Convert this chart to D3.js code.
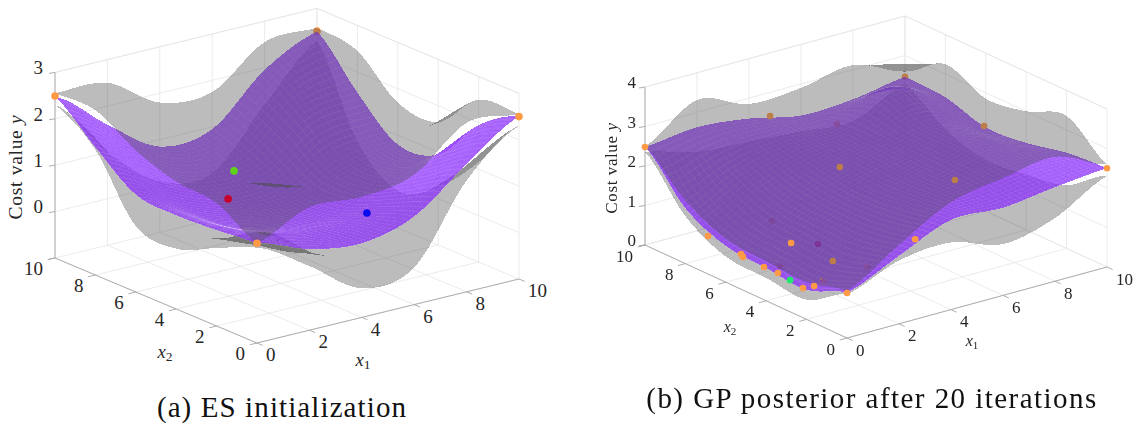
<!DOCTYPE html>
<html>
<head>
<meta charset="utf-8">
<script src="https://cdn.jsdelivr.net/npm/d3@7"></script>
<style>
  html, body { margin: 0; padding: 0; background: #fff; }
  svg { display: block; font-family: "Liberation Serif", serif; }
</style>
</head>
<body>
<div id="chart"></div>
<script>
// surface heights at x = 0, 2, 4, 6, 8, 10; rows are x2, columns are x1
const axisTicks = [0, 2, 4, 6, 8, 10];

const meanA = [
  [1.15, .75, .6, .9, 1.75, 2.5],
  [1.07, .7, .5, .6, 1.2, 1.95],
  [1.02, .5, .25, .25, .7, .95],
  [1.1, .55, .2, .2, .7, .8],
  [1.75, 1.0, .5, .6, 1.4, 1.55],
  [2.47, 1.6, .85, .95, 1.95, 2.5]
];
const upperA = [
  [1.15, 1.65, 1.6, 1.8, 2.64, 2.55],
  [1.65, 1.75, 1.45, 1.5, 2.0, 2.5],
  [1.75, 1.5, 1.1, 1.15, 1.5, 1.65],
  [2.05, 1.6, 1.15, 1.1, 1.55, 1.7],
  [2.55, 2.2, 1.55, 1.6, 2.3, 2.45],
  [2.55, 2.5, 1.8, 1.75, 2.55, 2.58]
];
const lowerA = [
  [1.05, .38, -.37, -.2, 1.4, 2.3],
  [.68, .72, -.05, -.3, .7, 1.15],
  [.3, .25, -.25, -.6, 0, .25],
  [.42, 0, -.45, -.85, -.3, -.2],
  [1.7, .5, -.3, -.5, 0, .5],
  [2.3, 1.0, .1, 0, 1.2, 2.3]
];

const meanB = [
  [1.15, 1.72, 2.27, 2.22, 2.38, 2.5],
  [.75, 1.5, 2.1, 2.3, 2.5, 2.42],
  [.83, 1.5, 2.0, 2.3, 2.6, 2.2],
  [.92, 1.6, 2.1, 2.35, 2.6, 2.12],
  [1.4, 2.0, 2.3, 2.35, 3.0, 2.41],
  [2.48, 2.62, 2.48, 2.2, 2.25, 2.46]
];
const upperB = [
  [1.2, 2.0, 2.72, 2.97, 3.15, 2.6],
  [.95, 1.9, 2.6, 3.1, 3.3, 3.35],
  [1.0, 2.0, 2.6, 3.0, 3.2, 3.0],
  [1.1, 2.1, 2.7, 3.0, 3.2, 2.85],
  [1.6, 2.6, 3.0, 3.0, 3.5, 3.25],
  [2.5, 3.31, 2.85, 2.9, 3.12, 2.6]
];
const lowerB = [
  [1.1, 1.6, 1.7, 1.3, 1.6, 2.3],
  [.5, 1.1, 1.4, 1.3, 1.6, 1.6],
  [.58, 1.1, 1.3, 1.4, 1.7, 1.4],
  [.65, 1.2, 1.4, 1.5, 1.8, 1.3],
  [1.2, 1.5, 1.6, 1.6, 2.2, 1.6],
  [2.35, 2.0, 1.9, 1.8, 1.7, 2.3]
];

// samples as [x1, x2, y]
const orangeFrontA = [[0, 10, 2.49], [10, 0, 2.5], [0, 0, 1.15]];
const orangeInsideA = [[10, 10, 2.51]];
const redA = [[4.11, 6.76, .3]];
const greenA = [[2.4, 4.25, 1.6]];
const blueA = [[4.92, .94, .95]];

const orangeFrontB = [[0, 10, 2.48], [10, 0, 2.5], [0, 0, 1.14], [0, 6.88, .96], [0, 5.25, .89],
  [0, 5.15, .84], [0, 4.11, .83], [0, 3.42, .84], [0, 2.18, .75], [0, 1.63, .93],
  [.11, 2.91, 1.7], [2.62, 0, 2.03]];
const orangeInsideB = [[10, 10, 2.46], [4.4, 9.47, 2.6], [6.84, 9.3, 2.0], [4.03, 5.54, 2.3],
  [9.04, 4.85, 2.6], [5.5, 1.74, 2.6], [1.0, 1.99, 1.3], [2.25, 6.61, 1.0], [.71, 4.23, .7],
  [1.72, 1.22, 1.2], [.55, 1.89, .9]];
const redB = [[1.74, 3.68, 1.2]];
const greenB = [[0, 2.82, .8]];

const zTicksA = [0, 1, 2, 3];
const zTicksB = [0, 1, 2, 3, 4];

const grayFill = "#505050", grayAlpha = .38;
const purpleFill = "#892cfa", purpleAlpha = .75;
const meshSteps = 50;

const svg = d3.select("#chart").append("svg")
  .attr("width", 1135)
  .attr("height", 423);

// catmull-rom through the nodes, only to smooth the drawn surface
function spline(vals, t) {
  const n = vals.length - 1;
  const u = Math.min(t * n, n - 1e-9), i = Math.floor(u), f = u - i;
  const p0 = vals[Math.max(i - 1, 0)], p1 = vals[i], p2 = vals[i + 1], p3 = vals[Math.min(i + 2, n)];
  return .5 * (2 * p1 + (p2 - p0) * f + (2 * p0 - 5 * p1 + 4 * p2 - p3) * f * f + (3 * p1 - p0 - 3 * p2 + p3) * f * f * f);
}

function surfaceAt(rows, x1, x2) {
  const col = rows.map(r => spline(r, x1 / 10));
  return spline(col, x2 / 10);
}

function drawPanel(p) {
  const g = svg.append("g");

  const x1X = d3.scaleLinear().domain([0, 10]).range([0, p.x1Run[0]]);
  const x1Y = d3.scaleLinear().domain([0, 10]).range([0, p.x1Run[1]]);
  const x2X = d3.scaleLinear().domain([0, 10]).range([0, p.x2Run[0]]);
  const x2Y = d3.scaleLinear().domain([0, 10]).range([0, p.x2Run[1]]);
  const yH = d3.scaleLinear().domain(p.yDomain).range([0, p.height]);

  const project = (x1, x2, y) => [
    p.origin[0] + x1X(x1) - x2X(x2),
    p.origin[1] - x1Y(x1) - x2Y(x2) - yH(y)
  ];

  // direction the camera looks along, bigger = further away
  const b = p.x1Run[0] / p.x2Run[0];
  const c = -(p.x1Run[1] + b * p.x2Run[1]) / (p.height / (p.yDomain[1] - p.yDomain[0]));
  const depth = (x1, x2, y) => x1 + b * x2 + c * y;

  const line = d3.line();
  const yMin = p.yDomain[0], yMax = p.yDomain[1];

  // walls and floor
  const gridLines = [];
  axisTicks.forEach(t => {
    gridLines.push([[t, 0, yMin], [t, 10, yMin]]);
    gridLines.push([[0, t, yMin], [10, t, yMin]]);
    gridLines.push([[t, 10, yMin], [t, 10, yMax]]);
    gridLines.push([[10, t, yMin], [10, t, yMax]]);
  });
  p.zTicks.forEach(t => {
    gridLines.push([[0, 10, t], [10, 10, t]]);
    gridLines.push([[10, 10, t], [10, 0, t]]);
  });
  gridLines.push([[0, 10, yMax], [10, 10, yMax]], [[10, 10, yMax], [10, 0, yMax]]);

  g.append("g").selectAll("path").data(gridLines).join("path")
    .attr("d", d => line(d.map(q => project(...q))))
    .attr("fill", "none")
    .attr("stroke", "#e6e6e6")
    .attr("stroke-width", .8);

  // axis lines and tick marks
  const axisLines = [
    [[0, 0, yMin], [10, 0, yMin]],
    [[0, 0, yMin], [0, 10, yMin]],
    [[0, 10, yMin], [0, 10, yMax]]
  ];
  axisTicks.forEach(t => {
    axisLines.push([[t, 0, yMin], [t, -.28, yMin]]);
    axisLines.push([[0, t, yMin], [-.28, t, yMin]]);
  });
  g.append("g").selectAll("path").data(axisLines).join("path")
    .attr("d", d => line(d.map(q => project(...q))))
    .attr("fill", "none")
    .attr("stroke", "#a6a6a6")
    .attr("stroke-width", .9);
  g.append("g").selectAll("line").data(p.zTicks.concat(yMin)).join("line")
    .attr("x1", d => project(0, 10, d)[0] - 6)
    .attr("x2", d => project(0, 10, d)[0])
    .attr("y1", d => project(0, 10, d)[1] + 1)
    .attr("y2", d => project(0, 10, d)[1])
    .attr("stroke", "#a6a6a6")
    .attr("stroke-width", .9);

  // quads of the three surfaces plus the samples, painted back to front
  const items = [];
  const stepSize = 10 / meshSteps;
  [[p.lower, "gray"], [p.mean, "purple"], [p.upper, "gray"]].forEach(([rows, kind]) => {
    for (let i = 0; i < meshSteps; i++) {
      for (let j = 0; j < meshSteps; j++) {
        const a1 = i * stepSize, a2 = j * stepSize, e1 = a1 + stepSize, e2 = a2 + stepSize;
        const pts = [[a1, a2], [e1, a2], [e1, e2], [a1, e2]]
          .map(q => [q[0], q[1], surfaceAt(rows, q[0], q[1])]);
        const xy = pts.map(q => project(...q));
        const dep = d3.mean(pts, q => depth(...q));
        items.push({ kind: kind, depth: dep, d: line(xy) + "Z" });
        if (kind === "purple") {
          items.push({ kind: "mesh", depth: dep, d: line([xy[3], xy[0], xy[1]]) });
        }
      }
    }
  });
  p.insideDots.forEach(s => {
    s.pts.forEach(q => {
      const at = project(...q);
      items.push({ kind: "dot", depth: depth(...q), color: s.color, at: at });
    });
  });
  items.sort((m, n) => d3.descending(m.depth, n.depth));

  const circle = d3.symbol(d3.symbolCircle, Math.PI * p.dotR * p.dotR)();
  const scene = g.append("g").style("filter", "blur(.45px)");
  scene.selectAll("path").data(items).join("path")
    .attr("d", d => d.kind === "dot" ? circle : d.d)
    .attr("transform", d => d.kind === "dot" ? `translate(${d.at})` : null)
    .attr("shape-rendering", d => (d.kind === "gray" || d.kind === "purple") ? "crispEdges" : null)
    .attr("fill", d => d.kind === "gray" ? grayFill : d.kind === "purple" ? purpleFill : d.kind === "dot" ? d.color : "none")
    .attr("fill-opacity", d => d.kind === "gray" ? grayAlpha : d.kind === "purple" ? purpleAlpha : 1)
    .attr("stroke", d => d.kind === "mesh" ? "#fff" : "none")
    .attr("stroke-opacity", .22)
    .attr("stroke-width", .5);

  // samples sitting in front of everything
  p.frontDots.forEach(s => {
    g.append("g").selectAll("circle").data(s.pts).join("circle")
      .attr("cx", d => project(...d)[0])
      .attr("cy", d => project(...d)[1])
      .attr("r", p.dotR)
      .attr("fill", s.color);
  });

  // tick labels
  const labels = g.append("g").attr("fill", "#262626").attr("font-size", p.tickSize);
  labels.append("g").selectAll("text").data(p.zTicks).join("text")
    .attr("x", d => project(0, 10, d)[0] - p.zLabelGap)
    .attr("y", d => project(0, 10, d)[1] + p.tickSize * .3 - 4)
    .attr("text-anchor", "end")
    .text(d => d);
  labels.append("g").selectAll("text").data(axisTicks).join("text")
    .attr("x", d => project(0, d, yMin)[0] - 12)
    .attr("y", d => project(0, d, yMin)[1] + 11 + p.tickSize * .33)
    .attr("text-anchor", "end")
    .text(d => d);
  labels.append("g").selectAll("text").data(axisTicks).join("text")
    .attr("x", d => project(d, 0, yMin)[0] + 9)
    .attr("y", d => project(d, 0, yMin)[1] + 12 + p.tickSize * .33)
    .text(d => d);

  // axis titles
  const yTitle = g.append("text")
    .attr("transform", `translate(${p.yTitleAt[0]},${p.yTitleAt[1]}) rotate(-90)`)
    .attr("text-anchor", "middle")
    .attr("fill", "#262626")
    .attr("font-size", p.titleSize)
    .attr("letter-spacing", p.titleSpacing);
  yTitle.append("tspan").text("Cost value ");
  yTitle.append("tspan").attr("font-style", "italic").text("y");

  [["1", p.x1TitleAt], ["2", p.x2TitleAt]].forEach(([sub, at]) => {
    const t = g.append("text")
      .attr("x", at[0]).attr("y", at[1])
      .attr("text-anchor", "middle")
      .attr("fill", "#262626")
      .attr("font-size", p.titleSize - 1);
    t.append("tspan").attr("font-style", "italic").text("x");
    t.append("tspan").attr("dy", 3).attr("font-size", p.titleSize - 6).text(sub);
  });

  // caption
  g.append("text")
    .attr("x", p.captionAt[0]).attr("y", p.captionAt[1])
    .attr("text-anchor", "middle")
    .attr("fill", "#111")
    .attr("font-size", 29)
    .attr("letter-spacing", p.captionSpacing)
    .text(p.caption);
}

drawPanel({
  origin: [257, 343], x1Run: [262, 64], x2Run: [202, 85],
  yDomain: [-1, 3], height: 185.6,
  zTicks: zTicksA,
  mean: meanA, upper: upperA, lower: lowerA,
  insideDots: [{ color: "#ff9a45", pts: orangeInsideA }],
  frontDots: [
    { color: "#ff9a45", pts: orangeFrontA },
    { color: "#c8002c", pts: redA },
    { color: "#5fd31a", pts: greenA },
    { color: "#0a0aee", pts: blueA }
  ],
  dotR: 3.8, tickSize: 19, zLabelGap: 12, titleSize: 19.5, titleSpacing: .7,
  yTitleAt: [22, 167], x1TitleAt: [363, 366], x2TitleAt: [165, 358],
  caption: "(a) ES initialization", captionAt: [282, 417], captionSpacing: 1.1
});

drawPanel({
  origin: [847, 338], x1Run: [260, 71], x2Run: [202, 93],
  yDomain: [0, 4], height: 158,
  zTicks: zTicksB,
  mean: meanB, upper: upperB, lower: lowerB,
  insideDots: [
    { color: "#ff9a45", pts: orangeInsideB },
    { color: "#c8002c", pts: redB }
  ],
  frontDots: [
    { color: "#ff9a45", pts: orangeFrontB },
    { color: "#1fe86a", pts: greenB }
  ],
  dotR: 3.3, tickSize: 17, zLabelGap: 9, titleSize: 17, titleSpacing: .6,
  yTitleAt: [617, 168], x1TitleAt: [972, 346], x2TitleAt: [730, 332],
  caption: "(b) GP posterior after 20 iterations", captionAt: [872, 408], captionSpacing: 1.45
});
</script>
</body>
</html>
